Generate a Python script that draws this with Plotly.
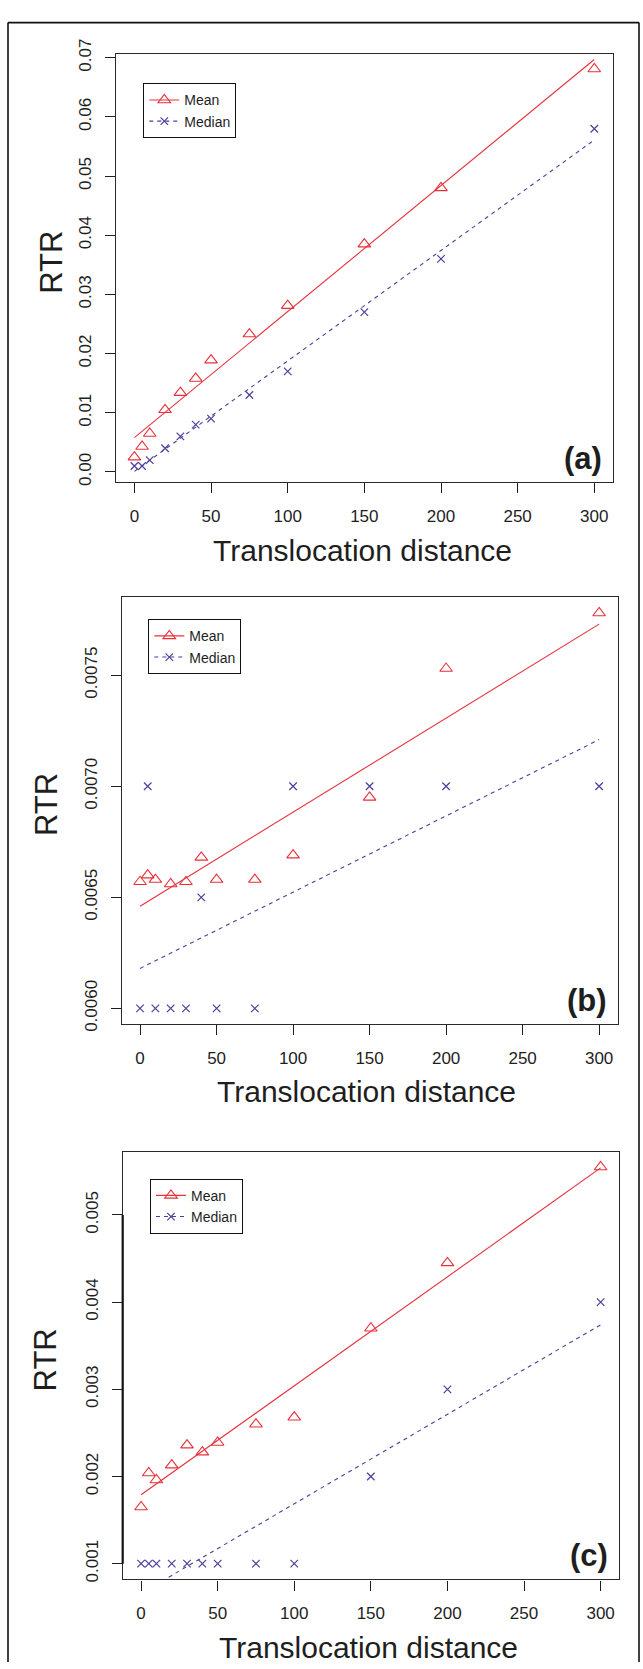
import plotly.graph_objects as go

W, H = 643, 1669
FONT = "Liberation Sans, Arial, Helvetica, sans-serif"
RED = "#e8303a"
BLUE = "#4b3f9b"
INK = "#1e1e1e"

# ---------------- data ----------------
distance = [0, 5, 10, 20, 30, 40, 50, 75, 100, 150, 200, 300]

mean_a = [0.0025, 0.0043, 0.0065, 0.0105, 0.0134, 0.0158, 0.0189, 0.0233, 0.0281, 0.0385, 0.0480, 0.0681]
median_a = [0.001, 0.001, 0.002, 0.004, 0.006, 0.008, 0.009, 0.013, 0.017, 0.027, 0.036, 0.058]

mean_b = [0.00657, 0.00660, 0.00658, 0.00656, 0.00657, 0.00668, 0.00658, 0.00658, 0.00669, 0.00695, 0.00753, 0.00778]
median_b = [0.0060, 0.0070, 0.0060, 0.0060, 0.0060, 0.0065, 0.0060, 0.0060, 0.0070, 0.0070, 0.0070, 0.0070]

mean_c = [0.00165, 0.00204, 0.00196, 0.00213, 0.00236, 0.00228, 0.00239, 0.00260, 0.00268, 0.00370, 0.00445, 0.00555]
median_c = [0.001, 0.001, 0.001, 0.001, 0.001, 0.001, 0.001, 0.001, 0.001, 0.002, 0.003, 0.004]

# fitted regression lines (end points)
fit_x = [0, 300]
fit_mean_a = [0.0058, 0.0697]
fit_median_a = [0.0001, 0.0561]
fit_mean_b = [0.00646, 0.00773]
fit_median_b = [0.00618, 0.00721]
fit_mean_c = [0.00179, 0.00554]
fit_median_c = [0.00066, 0.00374]

x_ticks = [0, 50, 100, 150, 200, 250, 300]
y_ticks_a = [0.00, 0.01, 0.02, 0.03, 0.04, 0.05, 0.06, 0.07]
y_labels_a = ["0.00", "0.01", "0.02", "0.03", "0.04", "0.05", "0.06", "0.07"]
y_ticks_b = [0.0060, 0.0065, 0.0070, 0.0075]
y_labels_b = ["0.0060", "0.0065", "0.0070", "0.0075"]
y_ticks_c = [0.001, 0.002, 0.003, 0.004, 0.005]
y_labels_c = ["0.001", "0.002", "0.003", "0.004", "0.005"]

panel_labels = ["(a)", "(b)", "(c)"]
x_title = "Translocation distance"
y_title = "RTR"
legend_names = ["Mean", "Median"]

# ---------------- layout geometry (pixels) ----------------
panels = [
    dict(mean=mean_a, median=median_a, fm=fit_mean_a, fd=fit_median_a,
         yt=y_ticks_a, yl=y_labels_a, yr=[-0.00173, 0.07055],
         box=(116.0, 612.7, 39.0, 472.7), leg=(143.3, 68.3),
         xt_y=541.5, xt_x=362.5, yt_pos=(51.6, 249.6)),
    dict(mean=mean_b, median=median_b, fm=fit_mean_b, fd=fit_median_b,
         yt=y_ticks_b, yl=y_labels_b, yr=[0.0059288, 0.0078512],
         box=(121.7, 617.5, 589.3, 1022.3), leg=(148.3, 611.7),
         xt_y=1091.0, xt_x=366.3, yt_pos=(46.4, 799.7)),
    dict(mean=mean_c, median=median_c, fm=fit_mean_c, fd=fit_median_c,
         yt=y_ticks_c, yl=y_labels_c, yr=[0.000819, 0.005717],
         box=(122.7, 619.0, 1152.3, 1585.3), leg=(150.0, 1179.0),
         xt_y=1654.3, xt_x=368.5, yt_pos=(45.5, 1362.7)),
]

def px(x):
    return x / W

def py(y):
    return 1 - y / H

fig = go.Figure()
annotations = []
shapes = []
layout = {}

for i, p in enumerate(panels):
    n = "" if i == 0 else str(i + 1)
    xa, ya = "x" + n, "y" + n
    leg = "legend" + n
    x0, x1, y0, y1 = p["box"]

    fig.add_trace(go.Scatter(x=fit_x, y=p["fm"], mode="lines", xaxis=xa, yaxis=ya,
                             line=dict(color=RED, width=1.1), showlegend=False, hoverinfo="skip"))
    fig.add_trace(go.Scatter(x=fit_x, y=p["fd"], mode="lines", xaxis=xa, yaxis=ya,
                             line=dict(color=BLUE, width=1.1, dash="4px,4px"), showlegend=False,
                             hoverinfo="skip"))
    fig.add_trace(go.Scatter(x=distance, y=p["mean"], mode="markers", xaxis=xa, yaxis=ya,
                             marker=dict(symbol="triangle-up-open", size=11, color=RED,
                                         line=dict(color=RED, width=1.1)),
                             showlegend=False, name=legend_names[0]))
    fig.add_trace(go.Scatter(x=distance, y=p["median"], mode="markers", xaxis=xa, yaxis=ya,
                             marker=dict(symbol="x-thin", size=7.5, color=BLUE,
                                         line=dict(color=BLUE, width=1.2)),
                             showlegend=False, name=legend_names[1]))
    # legend entries
    fig.add_trace(go.Scatter(x=[None], y=[None], mode="lines+markers", xaxis=xa, yaxis=ya,
                             name=legend_names[0], legend=leg,
                             line=dict(color=RED, width=1.1),
                             marker=dict(symbol="triangle-up-open", size=11, color=RED,
                                         line=dict(color=RED, width=1.1))))
    fig.add_trace(go.Scatter(x=[None], y=[None], mode="lines+markers", xaxis=xa, yaxis=ya,
                             name=legend_names[1], legend=leg,
                             line=dict(color=BLUE, width=1.1, dash="4px,4px"),
                             marker=dict(symbol="x-thin", size=7.5, color=BLUE,
                                         line=dict(color=BLUE, width=1.2))))

    layout["xaxis" + n] = dict(
        domain=[px(x0), px(x1)], anchor=ya, range=[-12, 312],
        tickmode="array", tickvals=x_ticks, ticktext=[str(v) for v in x_ticks],
        ticks="outside", ticklen=10, tickwidth=1, tickcolor=INK,
        showline=True, mirror=True, linecolor="#2a2a2a", linewidth=1.2,
        showgrid=False, zeroline=False, ticklabelstandoff=8,
        tickfont=dict(size=17, color=INK, family=FONT),
    )
    layout["yaxis" + n] = dict(
        domain=[py(y1), py(y0)], anchor=xa, range=p["yr"],
        tickmode="array", tickvals=p["yt"], ticktext=p["yl"], tickangle=-90,
        ticks="outside", ticklen=10, tickwidth=1, tickcolor=INK,
        showline=True, mirror=True, linecolor="#2a2a2a", linewidth=1.2,
        showgrid=False, zeroline=False, ticklabelstandoff=7,
        tickfont=dict(size=17, color=INK, family=FONT),
    )
    layout[leg] = dict(
        x=px(p["leg"][0]), y=py(p["leg"][1]), xanchor="left", yanchor="top",
        bordercolor="#111111", borderwidth=1, bgcolor="white",
        font=dict(size=14, color=INK, family=FONT), tracegroupgap=0,
        itemclick=False, itemdoubleclick=False,
    )
    annotations.append(dict(
        text=x_title, xref="paper", yref="paper", x=px(p["xt_x"]), y=py(p["xt_y"]),
        xanchor="center", yanchor="middle", showarrow=False,
        font=dict(size=30, color=INK, family=FONT)))
    annotations.append(dict(
        text=y_title, xref="paper", yref="paper", x=px(p["yt_pos"][0]), y=py(p["yt_pos"][1]),
        xanchor="center", yanchor="middle", showarrow=False, textangle=-90,
        font=dict(size=31, color=INK, family=FONT)))
    annotations.append(dict(
        text="<b>" + panel_labels[i] + "</b>", xref=xa + " domain", yref=ya + " domain",
        x=1, y=0, xanchor="right", yanchor="middle", xshift=-9, yshift=24,
        showarrow=False, font=dict(size=31, color=INK, family=FONT)))

# thicker left axis segment in panel (c)
shapes.append(dict(type="line", xref="x3 domain", yref="y3", x0=0, x1=0,
                   y0=y_ticks_c[0], y1=y_ticks_c[-1], line=dict(color="#111111", width=2.2)))
# outer frame
shapes.append(dict(type="line", xref="paper", yref="paper", x0=px(8), x1=px(8),
                   y0=0, y1=py(6.7), line=dict(color="#111111", width=1.6)))
shapes.append(dict(type="line", xref="paper", yref="paper", x0=px(8), x1=px(639),
                   y0=py(6.7), y1=py(6.7), line=dict(color="#111111", width=1.6)))
shapes.append(dict(type="line", xref="paper", yref="paper", x0=px(639), x1=px(639),
                   y0=0, y1=py(6.7), line=dict(color="#111111", width=1.6)))

fig.update_layout(
    width=W, height=H, margin=dict(l=0, r=0, t=0, b=0),
    paper_bgcolor="white", plot_bgcolor="white",
    font=dict(family=FONT, color=INK),
    annotations=annotations, shapes=shapes, showlegend=True,
    **layout,
)

fig.write_html("out.html")
